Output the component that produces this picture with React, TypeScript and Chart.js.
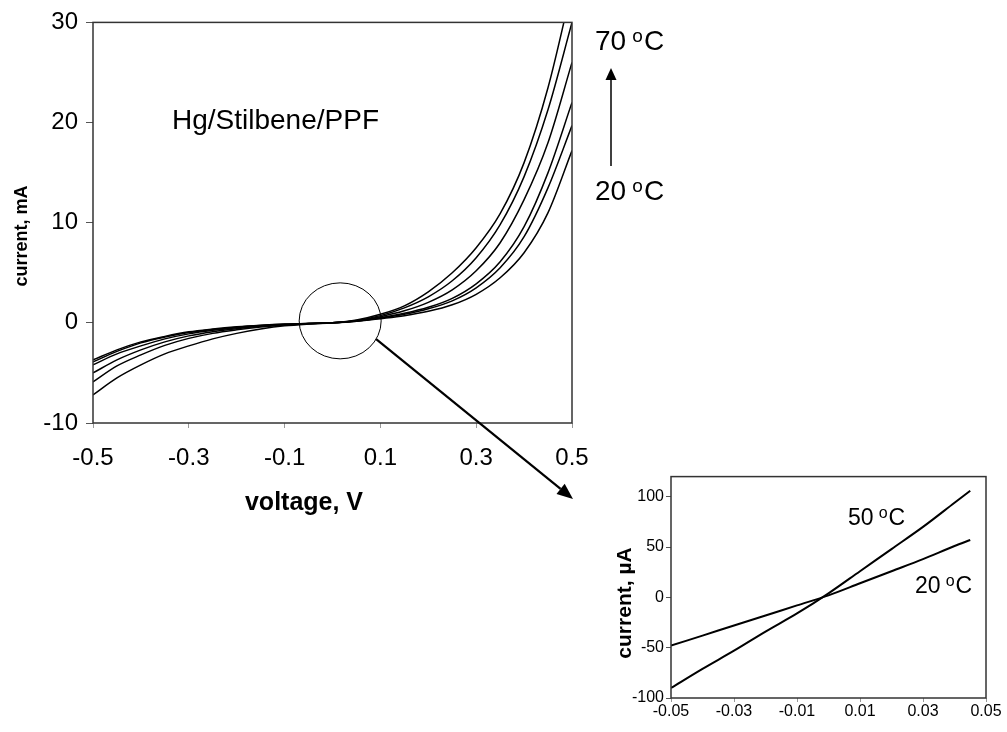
import React, { useEffect, useRef } from "react";
import { Chart, registerables } from "chart.js";

Chart.register(...registerables);

const FONT = "'Liberation Sans', Arial, Helvetica, sans-serif";

// ---------- main chart data (current in mA vs voltage in V) ----------
const voltage = [
  -0.5, -0.45, -0.4, -0.35, -0.3, -0.25, -0.2, -0.15, -0.1, -0.05, 0,
  0.05, 0.1, 0.15, 0.2, 0.25, 0.3, 0.35, 0.4, 0.45, 0.5,
];
const current20C = [
  -3.7, -2.7, -1.9, -1.35, -0.9, -0.62, -0.4, -0.24, -0.12, -0.05, 0,
  0.15, 0.42, 0.72, 1.15, 1.8, 2.85, 4.5, 7.0, 11.0, 17.2,
];
const current30C = [
  -3.9, -2.85, -2.0, -1.42, -0.97, -0.66, -0.43, -0.26, -0.14, -0.06, 0,
  0.17, 0.48, 0.85, 1.4, 2.2, 3.5, 5.5, 8.6, 13.5, 19.7,
];
const current40C = [
  -4.2, -3.1, -2.3, -1.6, -1.1, -0.75, -0.5, -0.3, -0.16, -0.07, 0,
  0.19, 0.52, 0.95, 1.55, 2.45, 3.9, 6.1, 9.6, 15.0, 22.0,
];
const current50C = [
  -5.0, -3.7, -2.7, -1.9, -1.3, -0.88, -0.58, -0.35, -0.19, -0.08, 0,
  0.21, 0.62, 1.2, 2.05, 3.3, 5.2, 8.0, 12.3, 18.0, 26.0,
];
const current60C = [
  -5.9, -4.3, -3.2, -2.25, -1.55, -1.05, -0.7, -0.42, -0.22, -0.09, 0,
  0.24, 0.72, 1.5, 2.6, 4.2, 6.5, 9.8, 14.6, 21.3, 30.0,
];
const current70C = [
  -7.2, -5.5, -4.2, -3.1, -2.3, -1.6, -1.05, -0.62, -0.3, -0.12, 0,
  0.28, 0.85, 1.7, 3.1, 5.0, 7.5, 10.9, 16.0, 23.5, 33.5,
];
const mainSeries = [current20C, current30C, current40C, current50C, current60C, current70C];

// ---------- inset data (current in µA vs voltage in V) ----------
const insetVoltage = [-0.05, -0.04, -0.03, -0.02, -0.01, 0, 0.01, 0.02, 0.03, 0.04, 0.045];
const inset50C = [-90, -71, -53, -34, -16, 4, 26, 48, 70, 94, 106];
const inset20C = [-48, -38, -28, -18, -8, 2, 14, 26, 38, 51, 57];

// ---------- texts ----------
const mainYTitle = "current, mA";
const mainXTitle = "voltage, V";
const deviceLabel = "Hg/Stilbene/PPF";
const insetYTitle = "current, µA";

function drawTemp(ctx: CanvasRenderingContext2D, num: string, x: number, y: number, size: number) {
  ctx.save();
  ctx.fillStyle = "#000";
  ctx.textAlign = "left";
  ctx.textBaseline = "alphabetic";
  ctx.font = `${size}px ${FONT}`;
  ctx.fillText(num, x, y);
  let w = ctx.measureText(num).width + size * 0.22;
  const small = Math.round(size * 0.68);
  ctx.font = `${small}px ${FONT}`;
  ctx.fillText("o", x + w, y - size * 0.3);
  w += ctx.measureText("o").width + size * 0.04;
  ctx.font = `${size}px ${FONT}`;
  ctx.fillText("C", x + w, y);
  ctx.restore();
}

function arrow(ctx: CanvasRenderingContext2D, x1: number, y1: number, x2: number, y2: number, lw: number, headLen: number, headHalf: number) {
  const ang = Math.atan2(y2 - y1, x2 - x1);
  const bx = x2 - Math.cos(ang) * headLen;
  const by = y2 - Math.sin(ang) * headLen;
  ctx.save();
  ctx.strokeStyle = "#000";
  ctx.fillStyle = "#000";
  ctx.lineWidth = lw;
  ctx.beginPath();
  ctx.moveTo(x1, y1);
  ctx.lineTo(bx, by);
  ctx.stroke();
  ctx.beginPath();
  ctx.moveTo(x2, y2);
  ctx.lineTo(bx + Math.sin(ang) * headHalf, by - Math.cos(ang) * headHalf);
  ctx.lineTo(bx - Math.sin(ang) * headHalf, by + Math.cos(ang) * headHalf);
  ctx.closePath();
  ctx.fill();
  ctx.restore();
}

const MAIN_W = 700;
const MAIN_H = 530;
const INSET_W = 447;
const INSET_H = 267;

export default function App() {
  const mainRef = useRef<HTMLCanvasElement | null>(null);
  const insetRef = useRef<HTMLCanvasElement | null>(null);

  useEffect(() => {
    if (!mainRef.current || !insetRef.current) return;

    const mainPlugin = {
      id: "mainDecor",
      afterDraw(chart: any) {
        const ctx: CanvasRenderingContext2D = chart.ctx;
        const { left, top, right, bottom } = chart.chartArea;
        const xs = chart.scales.x;
        const ys = chart.scales.y;
        ctx.save();
        ctx.strokeStyle = "#333";
        ctx.lineWidth = 1.5;
        ctx.strokeRect(left, top, right - left, bottom - top);

        // zoom circle
        const cx = xs.getPixelForValue(0.016);
        const cy = ys.getPixelForValue(0.2);
        ctx.strokeStyle = "#000";
        ctx.lineWidth = 1;
        ctx.beginPath();
        ctx.ellipse(cx, cy, 41, 38, 0, 0, Math.PI * 2);
        ctx.stroke();
        const th = 0.5;
        arrow(ctx, cx + 41 * Math.cos(th), cy + 38 * Math.sin(th), 573, 499, 2.2, 16, 6.5);

        // temperature arrow
        arrow(ctx, 611, 166, 611, 68, 1.5, 12, 5.5);
        drawTemp(ctx, "70", 595, 50, 28);
        drawTemp(ctx, "20", 595, 200, 28);

        ctx.fillStyle = "#000";
        ctx.font = `28px ${FONT}`;
        ctx.textAlign = "left";
        ctx.textBaseline = "alphabetic";
        ctx.fillText(deviceLabel, 172, 129);

        ctx.font = `bold 25px ${FONT}`;
        ctx.textAlign = "center";
        ctx.fillText(mainXTitle, 304, 510);

        ctx.translate(22, 236);
        ctx.rotate(-Math.PI / 2);
        ctx.font = `bold 18px ${FONT}`;
        ctx.textBaseline = "middle";
        ctx.fillText(mainYTitle, 0, 0);
        ctx.restore();
      },
    };

    const insetPlugin = {
      id: "insetDecor",
      afterDraw(chart: any) {
        const ctx: CanvasRenderingContext2D = chart.ctx;
        const { left, top, right, bottom } = chart.chartArea;
        ctx.save();
        ctx.strokeStyle = "#333";
        ctx.lineWidth = 1.5;
        ctx.strokeRect(left, top, right - left, bottom - top);
        drawTemp(ctx, "50", 288, 60, 23);
        drawTemp(ctx, "20", 355, 128, 23);
        ctx.fillStyle = "#000";
        ctx.translate(65, 138);
        ctx.rotate(-Math.PI / 2);
        ctx.font = `bold 21px ${FONT}`;
        ctx.textAlign = "center";
        ctx.textBaseline = "middle";
        ctx.fillText(insetYTitle, 0, 0);
        ctx.restore();
      },
    };

    const mainChart = new Chart(mainRef.current, {
      type: "line",
      data: {
        datasets: mainSeries.map((s, i) => ({
          label: `series${i}`,
          data: voltage.map((v, j) => ({ x: v, y: s[j] })),
          borderColor: "#000",
          borderWidth: 1.5,
          pointRadius: 0,
          fill: false,
          cubicInterpolationMode: "monotone" as const,
        })),
      },
      options: {
        responsive: false,
        animation: false,
        devicePixelRatio: 1,
        layout: { padding: { top: 19, right: MAIN_W - 572, left: 0, bottom: 0 } },
        plugins: { legend: { display: false }, tooltip: { enabled: false } },
        scales: {
          x: {
            type: "linear",
            min: -0.5,
            max: 0.5,
            ticks: {
              stepSize: 0.2,
              callback: (v: any) => Number(v).toFixed(1),
              font: { family: FONT, size: 24 },
              color: "#000",
              padding: 16,
              maxRotation: 0,
              autoSkip: false,
            },
            grid: { drawOnChartArea: false, drawTicks: true, tickLength: 5, tickColor: "#999" },
            border: { display: false },
            afterFit: (s: any) => {
              s.height = MAIN_H - 423;
            },
          },
          y: {
            min: -10,
            max: 30,
            ticks: {
              stepSize: 10,
              font: { family: FONT, size: 24 },
              color: "#000",
              padding: 8,
            },
            grid: { drawOnChartArea: false, drawTicks: true, tickLength: 7, tickColor: "#555" },
            border: { display: false },
            afterFit: (s: any) => {
              s.width = 93;
            },
          },
        },
      },
      plugins: [mainPlugin],
    });

    const insetChart = new Chart(insetRef.current, {
      type: "line",
      data: {
        datasets: [inset50C, inset20C].map((s, i) => ({
          label: `inset${i}`,
          data: insetVoltage.map((v, j) => ({ x: v, y: s[j] })),
          borderColor: "#000",
          borderWidth: 2,
          pointRadius: 0,
          fill: false,
          cubicInterpolationMode: "monotone" as const,
        })),
      },
      options: {
        responsive: false,
        animation: false,
        devicePixelRatio: 1,
        layout: { padding: { top: 9, right: 21, left: 0, bottom: 0 } },
        plugins: { legend: { display: false }, tooltip: { enabled: false } },
        scales: {
          x: {
            type: "linear",
            min: -0.05,
            max: 0.05,
            ticks: {
              stepSize: 0.02,
              callback: (v: any) => Number(v).toFixed(2),
              font: { family: FONT, size: 16 },
              color: "#000",
              padding: 0,
              maxRotation: 0,
              autoSkip: false,
            },
            grid: { drawOnChartArea: false, drawTicks: true, tickLength: 4, tickColor: "#999" },
            border: { display: false },
            afterFit: (s: any) => {
              s.height = INSET_H - 233;
            },
          },
          y: {
            min: -100,
            max: 120,
            afterBuildTicks: (s: any) => {
              s.ticks = s.ticks.filter((t: any) => t.value <= 100);
            },
            ticks: {
              stepSize: 50,
              font: { family: FONT, size: 16 },
              color: "#000",
              padding: 2,
            },
            grid: { drawOnChartArea: false, drawTicks: true, tickLength: 5, tickColor: "#555" },
            border: { display: false },
            afterFit: (s: any) => {
              s.width = 111;
            },
          },
        },
      },
      plugins: [insetPlugin],
    });

    return () => {
      mainChart.destroy();
      insetChart.destroy();
    };
  }, []);

  return (
    <div style={{ position: "absolute", left: 0, top: 0, width: 1007, height: 732, background: "#fff", overflow: "hidden" }}>
      <canvas
        ref={mainRef}
        width={MAIN_W}
        height={MAIN_H}
        style={{ position: "absolute", left: 0, top: 0, width: MAIN_W, height: MAIN_H }}
      />
      <canvas
        ref={insetRef}
        width={INSET_W}
        height={INSET_H}
        style={{ position: "absolute", left: 560, top: 465, width: INSET_W, height: INSET_H }}
      />
    </div>
  );
}
